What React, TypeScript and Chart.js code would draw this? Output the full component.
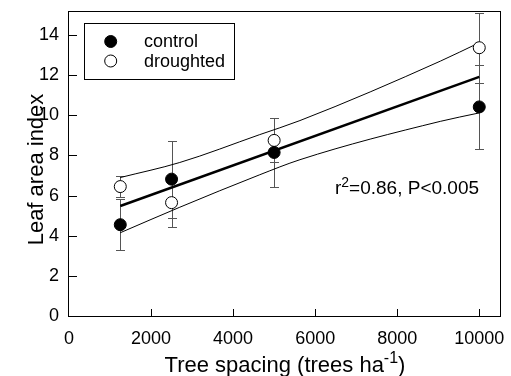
import { useEffect, useRef } from "react";
import { Chart, registerables } from "chart.js";

Chart.register(...registerables);

// ---- data ----
const spacing = [1250, 2500, 5000, 10000];
const controlLAI = [4.55, 6.82, 8.15, 10.42];
const controlErr = [1.27, 1.92, 1.72, 2.1];
const droughtedLAI = [6.45, 5.65, 8.75, 13.37];
const droughtedErr = [0.52, 1.2, 1.1, 1.75];

const fitX = [1250, 10000];
const fitY = [5.48, 11.92];

const bandX = [1250, 2700, 4650, 5630, 9050, 10000];
const upperBand = [6.9, 7.65, 9.04, 9.74, 12.7, 13.62];
const lowerBand = [4.15, 5.42, 7.04, 7.79, 9.7, 10.12];

const xTicks = [0, 2000, 4000, 6000, 8000, 10000];
const yTicks = [0, 2, 4, 6, 8, 10, 12, 14];

const legendLabels = ["control", "droughted"];
const xTitleMain = "Tree spacing (trees ha";
const xTitleSup = "-1";
const xTitleEnd = ")";
const yTitle = "Leaf area index";
const statBase = "r";
const statSup = "2";
const statRest = "=0.86, P<0.005";

const FONT = '"Liberation Sans", Arial, Helvetica, sans-serif';
const INK = "#000";
const ERR = "#555";

const errorBars = {
  id: "errorBars",
  beforeDatasetsDraw(chart: any) {
    const { ctx, chartArea, scales } = chart;
    const xs = scales.x;
    const ys = scales.y;
    ctx.save();
    ctx.beginPath();
    ctx.rect(chartArea.left, chartArea.top, chartArea.right - chartArea.left, chartArea.bottom - chartArea.top);
    ctx.clip();
    ctx.strokeStyle = ERR;
    ctx.lineWidth = 1;
    chart.data.datasets.forEach((ds: any) => {
      if (!ds.errors) return;
      ds.data.forEach((p: any, i: number) => {
        const e = ds.errors[i];
        const px = Math.round(xs.getPixelForValue(p.x)) + 0.5;
        const t = Math.round(ys.getPixelForValue(p.y + e)) + 0.5;
        const b = Math.round(ys.getPixelForValue(p.y - e)) + 0.5;
        ctx.beginPath();
        ctx.moveTo(px, t);
        ctx.lineTo(px, b);
        ctx.moveTo(px - 4.5, t);
        ctx.lineTo(px + 4.5, t);
        ctx.moveTo(px - 4.5, b);
        ctx.lineTo(px + 4.5, b);
        ctx.stroke();
      });
    });
    ctx.restore();
  },
};

function drawSup(ctx: any, x: number, y: number, main: string, sup: string, end: string, size: number, supSize: number, rise: number, align: "left" | "center") {
  ctx.font = `${size}px ${FONT}`;
  const w1 = ctx.measureText(main).width;
  const w3 = ctx.measureText(end).width;
  ctx.font = `${supSize}px ${FONT}`;
  const w2 = ctx.measureText(sup).width;
  const total = w1 + w2 + w3;
  let sx = align === "center" ? x - total / 2 : x;
  ctx.textAlign = "left";
  ctx.textBaseline = "alphabetic";
  ctx.font = `${size}px ${FONT}`;
  ctx.fillText(main, sx, y);
  sx += w1;
  ctx.font = `${supSize}px ${FONT}`;
  ctx.fillText(sup, sx, y - rise);
  sx += w2;
  ctx.font = `${size}px ${FONT}`;
  ctx.fillText(end, sx, y);
}

const decorations = {
  id: "decorations",
  afterDatasetsDraw(chart: any) {
    const { ctx, chartArea, scales } = chart;
    const { left, right, top, bottom } = chartArea;
    ctx.save();
    ctx.strokeStyle = INK;
    ctx.lineWidth = 1;
    // frame
    ctx.strokeRect(left - 0.5, top + 0.5, right - left, bottom - top);
    // inward ticks
    ctx.beginPath();
    scales.x.ticks.forEach((t: any) => {
      if (t.value === 0) return;
      const px = Math.round(scales.x.getPixelForValue(t.value)) + 0.5;
      ctx.moveTo(px, bottom);
      ctx.lineTo(px, bottom - 7);
    });
    scales.y.ticks.forEach((t: any) => {
      if (t.value === 0) return;
      const py = Math.round(scales.y.getPixelForValue(t.value)) + 0.5;
      ctx.moveTo(left, py);
      ctx.lineTo(left + 8, py);
    });
    ctx.stroke();
    ctx.restore();
  },
  afterDraw(chart: any) {
    const { ctx, chartArea } = chart;
    ctx.save();
    ctx.fillStyle = INK;
    ctx.strokeStyle = INK;
    // legend box
    ctx.lineWidth = 1;
    ctx.strokeRect(84.5, 23.5, 150, 56);
    const ds = chart.data.datasets;
    const rows = [41.5, 61];
    legendLabels.forEach((lab, i) => {
      ctx.beginPath();
      ctx.arc(110.7, rows[i], 6, 0, Math.PI * 2);
      ctx.fillStyle = ds[i].pointBackgroundColor;
      ctx.fill();
      ctx.strokeStyle = ds[i].pointBorderColor;
      ctx.stroke();
      ctx.fillStyle = INK;
      ctx.font = `18px ${FONT}`;
      ctx.textAlign = "left";
      ctx.textBaseline = "middle";
      ctx.fillText(lab, 144, rows[i] + 1);
    });
    // statistic
    ctx.fillStyle = INK;
    drawSup(ctx, 335, 194, statBase, statSup, statRest, 19, 14, 7, "left");
    // x title
    drawSup(ctx, (chartArea.left + chartArea.right) / 2, 372, xTitleMain, xTitleSup, xTitleEnd, 22, 16, 9, "center");
    // y title
    ctx.save();
    ctx.translate(43, 169.5);
    ctx.rotate(-Math.PI / 2);
    ctx.font = `22px ${FONT}`;
    ctx.textAlign = "center";
    ctx.textBaseline = "alphabetic";
    ctx.fillText(yTitle, 0, 0);
    ctx.restore();
    ctx.restore();
  },
};

function zeroPad(s: any) {
  s.paddingLeft = 0;
  s.paddingRight = 0;
  s.paddingTop = 0;
  s.paddingBottom = 0;
}

export default function App() {
  const ref = useRef<HTMLCanvasElement>(null);
  useEffect(() => {
    document.body.style.margin = "0";
    const canvas = ref.current!;
    const chart = new Chart(canvas, {
      type: "scatter",
      data: {
        datasets: [
          {
            label: legendLabels[0],
            data: spacing.map((x, i) => ({ x, y: controlLAI[i] })),
            pointRadius: 6,
            pointHoverRadius: 6,
            pointBackgroundColor: "#000",
            pointBorderColor: "#000",
            pointBorderWidth: 1,
            showLine: false,
            order: 0,
            errors: controlErr,
          } as any,
          {
            label: legendLabels[1],
            data: spacing.map((x, i) => ({ x, y: droughtedLAI[i] })),
            pointRadius: 6,
            pointHoverRadius: 6,
            pointBackgroundColor: "#fff",
            pointBorderColor: "#000",
            pointBorderWidth: 1,
            showLine: false,
            order: 0,
            errors: droughtedErr,
          } as any,
          {
            label: "fit",
            data: fitX.map((x, i) => ({ x, y: fitY[i] })),
            showLine: true,
            borderColor: "#000",
            borderWidth: 2.5,
            pointRadius: 0,
            order: 1,
          },
          {
            label: "upper",
            data: bandX.map((x, i) => ({ x, y: upperBand[i] })),
            showLine: true,
            borderColor: "#000",
            borderWidth: 1,
            pointRadius: 0,
            cubicInterpolationMode: "monotone",
            order: 1,
          },
          {
            label: "lower",
            data: bandX.map((x, i) => ({ x, y: lowerBand[i] })),
            showLine: true,
            borderColor: "#000",
            borderWidth: 1,
            pointRadius: 0,
            cubicInterpolationMode: "monotone",
            order: 1,
          },
        ],
      },
      options: {
        responsive: false,
        animation: false,
        events: [],
        layout: { padding: { left: 0, right: 10, top: 11, bottom: 0 } },
        plugins: { legend: { display: false }, tooltip: { enabled: false } },
        scales: {
          x: {
            type: "linear",
            min: 0,
            max: 10530,
            grid: { display: false, drawTicks: false },
            border: { display: false },
            afterBuildTicks: (s: any) => {
              s.ticks = xTicks.map((v) => ({ value: v }));
            },
            afterFit: (s: any) => {
              s.height = 60;
              zeroPad(s);
            },
            ticks: {
              padding: 12,
              color: INK,
              font: { family: FONT, size: 18 },
              maxRotation: 0,
              callback: (v: any) => String(v),
            },
          },
          y: {
            type: "linear",
            min: 0,
            max: 15.2,
            grid: { display: false, drawTicks: false },
            border: { display: false },
            afterBuildTicks: (s: any) => {
              s.ticks = yTicks.map((v) => ({ value: v }));
            },
            afterFit: (s: any) => {
              s.width = 69;
              zeroPad(s);
            },
            ticks: {
              padding: 10,
              color: INK,
              font: { family: FONT, size: 18 },
              callback: (v: any) => String(v),
            },
          },
        },
      },
      plugins: [errorBars, decorations],
    });
    return () => chart.destroy();
  }, []);
  return (
    <div style={{ width: 511, height: 376 }}>
      <canvas ref={ref} width={511} height={376} style={{ display: "block" }} />
    </div>
  );
}
